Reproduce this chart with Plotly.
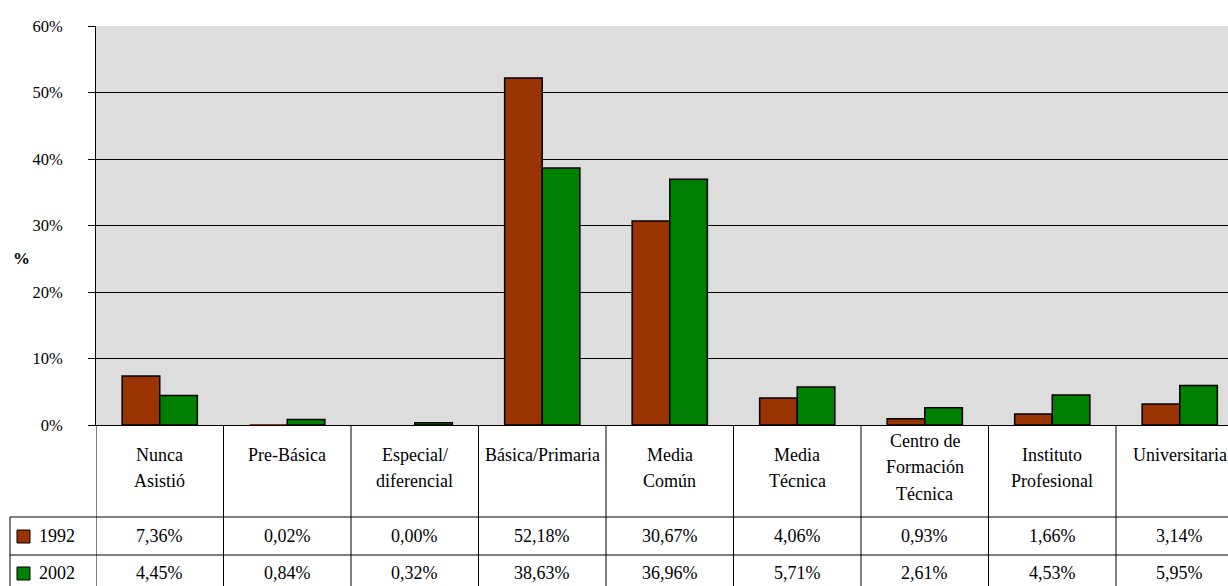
import plotly.graph_objects as go

# data (percent of population by education level)
CATEGORIES = [
    "Nunca<br>Asistió", "Pre-Básica", "Especial/<br>diferencial", "Básica/Primaria",
    "Media<br>Común", "Media<br>Técnica", "Centro de<br>Formación<br>Técnica",
    "Instituto<br>Profesional", "Universitaria",
]
VALUES_1992 = [7.36, 0.02, 0.00, 52.18, 30.67, 4.06, 0.93, 1.66, 3.14]
VALUES_2002 = [4.45, 0.84, 0.32, 38.63, 36.96, 5.71, 2.61, 4.53, 5.95]
SERIES = [("1992", VALUES_1992, "#993300"), ("2002", VALUES_2002, "#008000")]

FONT = "Liberation Serif"
TABLE_FONT = dict(family=FONT, size=18, color="black")
W, H = 1228, 586
L, T, B = 96, 26, 161          # margins in px
PLOT_H = H - T - B             # 399
CELL = 127.5                   # px per category


def py(p):
    """page pixel row -> paper y"""
    return (H - B - p) / PLOT_H


def px_(p):
    """page pixel column -> paper x"""
    return (p - L) / (W - L)


def pct(v):
    return f"{v:.2f}%".replace(".", ",")


n = len(CATEGORIES)
xs = list(range(n))

fig = go.Figure()
for name, vals, col in SERIES:
    # Excel draws nothing for near-zero bars, so no outline there either
    widths = [0 if v < 0.1 else 1.5 for v in vals]
    fig.add_trace(go.Bar(
        x=xs, y=vals, name=name, marker_color=col,
        marker_line=dict(color="black", width=widths),
    ))

shapes = []
annotations = []
bottom = py(H)

# vertical cell borders of the data table
for i in range(n):
    shapes.append(dict(type="line", xref="x", yref="paper",
                       x0=i - 0.5, x1=i - 0.5, y0=0, y1=bottom,
                       line=dict(color="black", width=1)))
# horizontal row borders + left border
for p in (517, 555):
    shapes.append(dict(type="line", xref="paper", yref="paper",
                       x0=px_(10), x1=1.0, y0=py(p), y1=py(p),
                       line=dict(color="black", width=1)))
shapes.append(dict(type="line", xref="paper", yref="paper",
                   x0=px_(10), x1=px_(10), y0=py(517), y1=bottom,
                   line=dict(color="black", width=1)))

# category labels, one annotation per line to get Excel's loose line spacing
for i, lab in enumerate(CATEGORIES):
    lines = lab.split("<br>")
    rows = [441, 467, 494] if len(lines) == 3 else [455, 481]
    for ln, p in zip(lines, rows):
        annotations.append(dict(x=i, y=py(p), xref="x", yref="paper", text=ln,
                                showarrow=False, xanchor="center", yanchor="middle",
                                font=TABLE_FONT))

# value rows with legend keys
for (name, vals, col), p in zip(SERIES, (536, 573)):
    for i, v in enumerate(vals):
        annotations.append(dict(x=i, y=py(p), xref="x", yref="paper", text=pct(v),
                                showarrow=False, xanchor="center", yanchor="middle",
                                font=TABLE_FONT))
    annotations.append(dict(x=px_(37), y=py(p), xref="paper", yref="paper", text=name,
                            showarrow=False, xanchor="left", yanchor="middle",
                            font=TABLE_FONT))
    shapes.append(dict(type="rect", xref="paper", yref="paper",
                       x0=px_(17), x1=px_(30), y0=py(p - 6), y1=py(p + 7),
                       fillcolor=col, line=dict(color="black", width=1)))

annotations.append(dict(x=px_(21), y=py(258), xref="paper", yref="paper",
                        text="<b>%</b>", showarrow=False,
                        xanchor="center", yanchor="middle",
                        font=dict(family=FONT, size=17, color="black")))

fig.update_layout(
    width=W, height=H,
    margin=dict(l=L, r=0, t=T, b=B),
    paper_bgcolor="white", plot_bgcolor="#DDDDDD",
    font=dict(family=FONT, size=16.5, color="black"),
    barmode="group", bargap=0.41, bargroupgap=0,
    showlegend=False,
    shapes=shapes, annotations=annotations,
)
fig.update_xaxes(
    range=[-0.5, -0.5 + (W - L) / CELL], showticklabels=False,
    showgrid=False, zeroline=False, showline=True, linecolor="black", linewidth=1,
    ticks="",
)
fig.update_yaxes(
    range=[0, 60], dtick=10, ticksuffix="%",
    showgrid=True, gridcolor="black", gridwidth=1,
    zeroline=False, showline=True, linecolor="black", linewidth=1,
    ticks="outside", ticklen=7, tickcolor="black",
    ticklabelstandoff=22,
)

# drop the default 8px body margin so the figure sits at the page corner
fig.write_html("out.html", config={"displayModeBar": False},
               post_script="document.body.style.margin='0';")
